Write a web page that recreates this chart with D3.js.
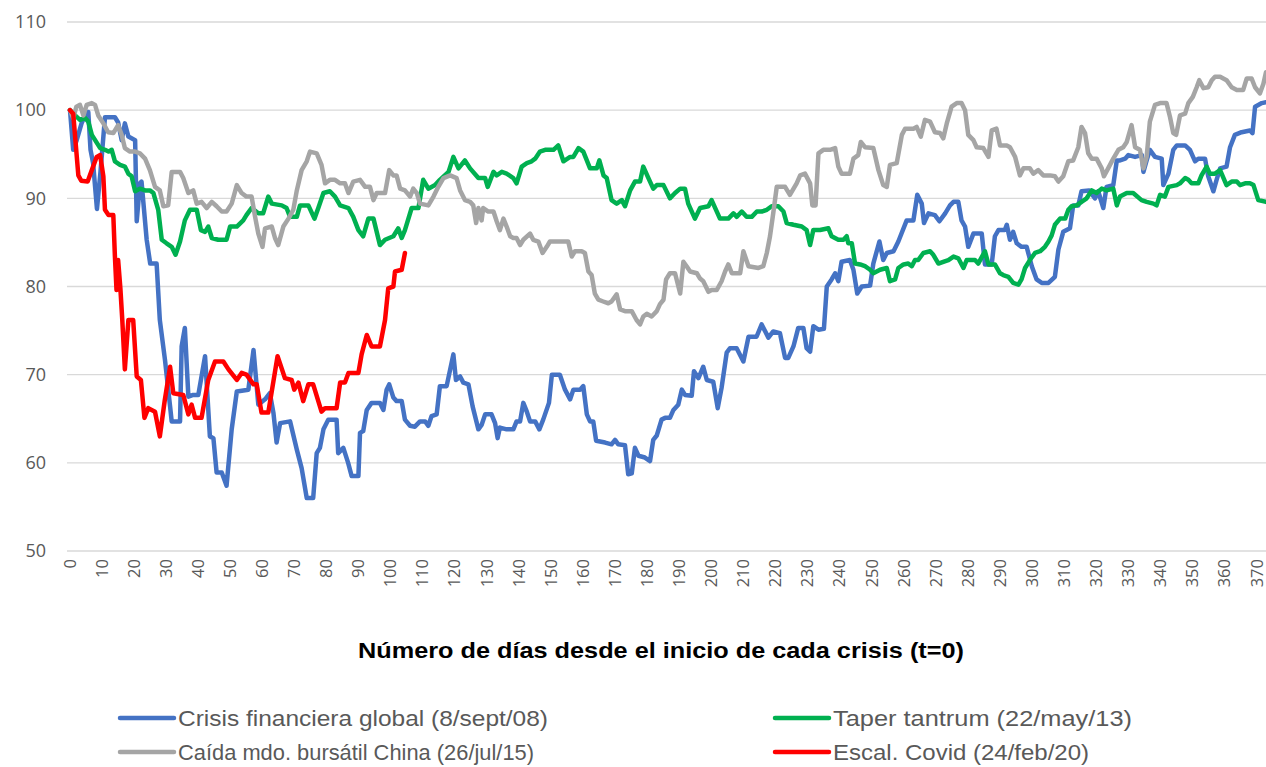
<!DOCTYPE html>
<html>
<head>
<meta charset="utf-8">
<script src="https://cdn.jsdelivr.net/npm/d3@7"></script>
<style>
  body { margin: 0; background: #fff; }
  svg { display: block; }
</style>
</head>
<body>
<div id="chart"></div>
<script>
// Índice (t=0 = 100) por días desde el inicio de cada crisis
const crisisGlobal = [[0,100],[1,95.5],[2,96.5],[3.6,98.5],[5.2,99.8],[5.7,99.8],[6.4,95.5],[7.2,94],[8.4,88.8],[9.5,93],[10.9,99.2],[14,99.2],[15,98.6],[16.1,96.6],[17.1,98.5],[18.2,97],[20.3,96.6],[20.8,87.4],[21.8,91.7],[22.3,91.9],[23.9,85.3],[25,82.6],[27,82.6],[28,76.2],[29.6,71.7],[31.2,66.4],[31.7,64.7],[34.3,64.7],[34.8,73.2],[35.8,75.3],[36.9,67.5],[38.4,67.7],[40,67.7],[42.1,72.1],[43.6,63],[44.7,62.8],[45.7,58.9],[47.3,58.9],[48.8,57.4],[50.4,63.8],[52,68.1],[55.6,68.3],[57.2,72.8],[58.7,66.6],[60.8,67.2],[62.3,67.9],[63.4,65.7],[64.4,62.3],[65.5,64.5],[68.6,64.7],[70.7,61.5],[72.2,59.4],[73.8,56],[75.8,56],[76.9,61.1],[77.9,61.7],[79,63.8],[80.5,64.9],[83.1,64.9],[83.6,61.1],[85.2,61.7],[86.7,60],[87.8,58.5],[89.9,58.5],[90.4,63.4],[91.4,63.6],[92.5,66],[94,66.8],[96.6,66.8],[97.7,66],[98.7,68.3],[99.5,68.9],[100.8,67.4],[101.8,67],[103.4,67],[104.4,64.9],[106,64.2],[107.5,64.1],[109.1,64.7],[110.7,64.7],[111.7,64.2],[112.7,65.3],[114.3,65.5],[115.3,68.7],[117.4,68.7],[119.5,72.3],[120.3,69.4],[121.6,69.8],[122.6,69.1],[124.2,68.9],[125.5,66.4],[127.3,63.8],[128.3,64.3],[129.4,65.5],[131.4,65.5],[132.5,64.5],[133.3,62.8],[134,64],[136.1,63.8],[138.2,63.8],[139.2,64.7],[140.3,64.7],[141.3,66.8],[142.4,65.8],[143.4,64.7],[145,64.7],[146.3,63.8],[147.5,64.9],[149.3,66.8],[150.2,70],[152.7,70],[154.3,68.3],[155.9,67.2],[156.9,68.3],[159,68.3],[160,68.7],[161.1,65.5],[162.1,64.7],[163.1,64.7],[164,62.5],[166.8,62.3],[168.8,62.1],[169.9,62.6],[170.9,62.1],[173,62],[174,58.7],[175.1,58.8],[176.1,61.7],[177.2,60.8],[179.2,60.6],[180.8,60.2],[181.8,62.6],[182.9,63.1],[184.4,64.9],[185.5,65.1],[187,65.1],[188.1,66],[189.6,66.6],[190.7,68.3],[191.7,67.7],[193.8,67.6],[194.5,70.4],[195.9,69.6],[197.4,70.9],[198.5,69.4],[200.5,69.2],[201.9,66.2],[203.1,68.5],[204.7,72.5],[205.7,73],[207.8,73],[209.9,71.5],[211.5,74.3],[214,74.3],[215.6,75.7],[217.7,74.2],[219.2,74.9],[221.3,74.7],[222.9,71.9],[223.9,71.9],[225.5,73.2],[227,75.3],[228.6,75.3],[229.6,73],[230.7,72.6],[231.7,75.5],[233.3,75.1],[235,75.2],[235.9,80],[237.4,80.8],[238.5,81.5],[239.5,80.6],[240.5,82.8],[243.1,83],[244.2,81.9],[245.4,79.2],[246.8,80],[249.4,80.1],[250.4,82.6],[252.3,85.1],[253.5,83],[254.6,83.8],[256.7,84],[258.2,85.1],[260.8,87.5],[262.9,87.5],[264.1,90.4],[265.5,89.4],[266.2,87.2],[267.6,88.3],[269.6,88.1],[271,87.4],[272.8,88.3],[274.3,89.2],[275.4,89.6],[276.9,89.6],[277.9,87.5],[279,86.8],[280,84.5],[281.6,86],[284.2,86],[285.2,82.5],[287.3,82.5],[288.3,85.7],[289.4,86.4],[291.4,86.4],[292,87],[293,85.3],[294,86.2],[295.1,84.9],[296.6,84.5],[298.2,84.5],[299.8,82.3],[301.3,80.8],[302.9,80.4],[305,80.4],[307,81.1],[308.1,84.2],[309.6,86.2],[311.7,86.6],[312.7,89.2],[314.3,89.2],[315.3,90.8],[317.7,90.9],[319.5,90],[320.5,90.8],[322.1,88.9],[323.1,91.3],[325.2,91.5],[326.3,94.3],[327.3,94.3],[328.9,94.5],[329.9,94.9],[332,94.7],[334.1,94.9],[334.6,93],[335.6,94.3],[336.6,95.5],[338.2,94.7],[340.3,94.5],[340.8,91.5],[342.4,92.8],[343.9,95.5],[345,96],[347.6,96],[349.1,95.5],[350.7,94.2],[351.7,94.5],[353.8,94.5],[354.8,92.5],[356.4,90.8],[357.4,92.1],[358.5,93.4],[360.5,93.6],[361.6,95.8],[363.1,97.2],[365.2,97.5],[367.8,97.7],[368.6,97.4],[369.4,100.4],[371.5,100.8],[372.8,100.9]];

const taperTantrum = [[0,100],[1.6,99.4],[3.1,98.9],[4.7,99.1],[5.7,98.7],[6.8,97.2],[9.4,95.7],[10.9,95.5],[12,95.3],[13,95.5],[14,94.2],[15.6,93.8],[17.1,93.6],[18.2,92.8],[19.2,92.5],[20.3,90.8],[21.8,91.1],[23.4,90.9],[24.9,90.9],[26,90.6],[27.5,88.7],[28.6,85.3],[30.1,84.9],[31.7,84.5],[32.9,83.6],[34.3,85.1],[35.8,87.5],[37.4,88.7],[39.5,88.7],[40.8,86.4],[42.1,86.2],[43.1,86.8],[44.2,85.5],[46.2,85.3],[48.8,85.3],[49.9,86.8],[52,86.8],[54,87.5],[55,88.1],[56.6,88.9],[58.7,88.3],[60.2,88.3],[61.8,90.2],[62.9,89.4],[66,89.2],[67.5,88.9],[68.6,87.9],[70.7,87.9],[71.7,89.2],[74.3,89.2],[76.2,87.7],[77.4,88.9],[79,90.6],[81,90.8],[82.6,90.2],[84.2,89.2],[86.8,88.9],[88.3,87.9],[89.9,86.4],[91.4,85.7],[93,87.7],[94.6,87.7],[96.6,84.7],[98.2,85.3],[100.8,85.7],[102.3,86.6],[103.4,85.5],[104.4,86.4],[106.5,88.9],[108.6,88.9],[110.1,92.1],[111.7,91.1],[113.8,91.5],[115.3,92.1],[118,93],[119.5,94.7],[121.1,93.4],[123.1,94.3],[124.7,93.4],[127.3,92.3],[129.4,92.3],[130.2,91.3],[132,93],[133,92.6],[134.6,93],[136.1,92.8],[138.2,92.3],[139.2,91.7],[140.8,93.6],[142.4,94],[143.9,94.2],[145,94.5],[146.5,95.3],[148.1,95.5],[150.7,95.5],[152.2,96],[153.8,94.2],[155.9,94.7],[156.9,94.7],[158.5,95.7],[160,95.3],[162.1,93.4],[164.2,93.4],[165,94.3],[166.3,92.6],[167.3,92.3],[168.8,89.8],[170.4,89.4],[172,89.8],[173,89.1],[174.6,90.9],[176.1,91.9],[177.7,91.9],[178.7,93.6],[180.3,92.3],[181.8,91.1],[182.9,91.5],[185,91.5],[187,90],[188.6,90.6],[190.2,91.1],[191.7,91.1],[192.7,89.4],[194.8,87.7],[196.4,88.9],[199,89.1],[200,89.8],[202.6,87.7],[205.2,87.7],[206.8,88.3],[207.8,87.9],[209.4,88.5],[210.9,87.9],[212.5,87.9],[214.1,88.5],[215.6,88.5],[217.2,88.7],[218.7,89.1],[220.8,89.1],[222.4,88.5],[223.4,87.2],[225.5,87],[228.1,86.8],[229.6,86.4],[230.7,84.7],[231.7,86.4],[233.8,86.4],[236.4,86.6],[237.4,85.7],[239.5,85.3],[241.1,85.3],[242.1,85.7],[242.6,84.9],[243.7,84.9],[244.7,82.6],[246.3,82.5],[247.8,82.3],[249.4,81.9],[250.4,81.5],[252.5,81.9],[254.6,82.1],[255.6,80.6],[257.2,80.8],[258.2,82.1],[259.8,82.5],[261.3,82.6],[262.4,82.3],[263.4,83],[264.4,83],[266,83.8],[268.1,84],[269.1,83.6],[270.7,82.6],[272.2,82.8],[273.8,83],[275.4,83.4],[276.9,83.2],[278.5,82.1],[279.5,83],[282.1,83],[283.1,82.6],[285.2,84],[286.3,82.5],[288.3,82.5],[289.9,81.5],[290.9,81.3],[292.5,81.1],[294,80.4],[295.6,80.2],[296.6,80.8],[297.7,82.1],[299.2,83],[300.8,83.8],[302.4,84],[303.9,84.5],[305,85.1],[306,85.8],[307,87],[308.6,87.7],[310.2,87.7],[311.2,88.7],[312.2,89.1],[313.8,89.2],[315.3,89.6],[316.9,90],[318.5,90.9],[320,90.6],[321.6,91.1],[323.1,90.9],[325.2,91.1],[326.3,89.2],[327.3,90.2],[329.4,90.6],[331.4,90.6],[334,89.8],[335.6,89.6],[337.7,89.4],[338.7,89.2],[339.8,90.4],[341.3,90.2],[342.4,91.3],[345,91.5],[346,91.7],[347.6,92.3],[348.6,92.1],[349.6,91.7],[351.7,91.7],[352.7,92.6],[354.3,93.6],[355.3,92.8],[356.9,92.8],[358.5,93.2],[360.5,91.5],[362.1,91.9],[363.7,91.9],[364.7,91.5],[366.3,91.7],[367.8,91.7],[368.9,91.5],[370.4,89.8],[372.8,89.6]];

const caidaChina = [[0,100],[1,99.1],[2,100.4],[3.1,100.6],[4.2,99.4],[5.2,100.6],[6.8,100.8],[7.8,100.6],[8.8,99.4],[10.4,98.5],[11.9,97.5],[13.5,97.4],[15,98.3],[16.1,97.2],[17.1,95.7],[18.7,95.3],[20.3,95.3],[21.8,95.1],[23.4,94.5],[24.9,93.2],[26.5,91.3],[28,90.9],[29.1,89.1],[30.6,89.2],[31.7,93],[34.3,93],[35.3,92.3],[36.9,90.6],[38.4,90.9],[39.5,89.4],[41,89.6],[42.6,88.9],[44.2,89.6],[45.7,89.1],[47.3,88.5],[48.8,88.5],[50.4,89.4],[52,91.5],[53.5,90.6],[55,90.2],[56.6,90.2],[57.7,87.9],[58.7,86],[60,84.5],[60.8,86.6],[62.9,86.8],[63.9,85.5],[64.9,84.7],[66.5,86.8],[68.1,87.7],[69.6,88.7],[70.7,90.9],[72.2,93.2],[73.8,94.2],[74.8,95.3],[76.9,95.1],[78.4,93.8],[79.5,91.7],[81,92.1],[82.6,92.1],[84.2,91.7],[85.7,91.7],[86.8,90.6],[88.3,91.9],[90.4,92.1],[92,91.3],[93.5,91.3],[94.6,89.8],[95.6,90.6],[98.2,90.6],[99.5,93.2],[100.8,92.6],[101.8,92.6],[102.9,91.1],[104.4,90.9],[106,90.2],[107,91.1],[108.1,90.6],[109.1,89.4],[111.7,89.2],[113.3,90.2],[114.8,91.3],[116.4,92.3],[118.5,92.6],[120.5,92.3],[121.6,90.9],[123.1,89.8],[124.7,89.6],[125.7,89.2],[126.6,87.2],[127.3,88.9],[128.3,87.5],[128.8,88.9],[130.4,88.5],[132,88.5],[133,87.4],[134,86.4],[135.1,87.7],[136.1,86.8],[137.2,85.7],[138.2,85.5],[139.2,85.5],[140.3,84.7],[141.3,85.3],[143.4,86],[144.4,85.3],[146,85.1],[147.3,83.8],[148.6,84.5],[149.6,85.1],[152.2,85.1],[155.3,85.1],[156.4,83.4],[157.4,84],[159.5,84],[160.5,83.8],[161.6,81.7],[162.6,81.3],[163.6,79.2],[164.7,78.5],[166.2,78.3],[167.8,78.1],[168.8,78.3],[170.4,79.1],[171.5,77.4],[173,77.2],[175.1,77.2],[176.6,76.2],[177.7,75.7],[178.7,76.6],[179.8,76.9],[181.3,76.6],[182.9,77.2],[183.9,78],[185,78.5],[185.8,80.8],[187,81.5],[188.6,81.5],[190.2,79.2],[191.2,82.8],[192.2,82.3],[193.3,81.7],[195.4,81.5],[196.4,80.9],[197.4,80.6],[199,79.4],[200,79.6],[201.6,79.6],[203.1,80.6],[204.2,81.7],[205.2,82.5],[206.3,81.5],[208.9,81.5],[209.9,84],[211.5,82.3],[214.6,82.1],[216.1,82.3],[217.2,83.8],[218.2,85.7],[219.2,88.3],[220.3,91.3],[222.9,91.3],[224.4,90.4],[226.5,91.7],[227.6,92.6],[229.1,92.8],[230.7,91.7],[231.4,89.2],[232.4,89.2],[233.3,95.1],[234.8,95.5],[236.9,95.5],[238.5,95.7],[239.5,93.6],[240.5,92.8],[243.1,92.8],[244.2,94.5],[245.7,94.9],[246.5,96.4],[247.8,95.8],[250.4,95.7],[252,93.2],[253.5,91.5],[254.6,91.3],[255.6,93.8],[257.7,94],[259.3,97.2],[260.3,97.9],[262.9,97.9],[263.9,98.1],[265.2,97],[266.5,98.9],[268.1,98.7],[269.6,97.5],[271.2,97.4],[272.2,96.8],[273.3,98.5],[274.8,100.4],[276.4,100.8],[277.9,100.8],[279,100],[280,97.2],[281.6,96.6],[282.6,95.8],[284.7,95.7],[286.3,94.7],[287.3,97.7],[288.8,97.9],[289.9,96],[292,96],[293,95.8],[294.6,94.7],[296.1,92.6],[297.2,93.4],[299.2,93.4],[300.3,92.8],[301.8,93.2],[303.4,92.6],[305.5,92.6],[307,92.5],[308.1,91.9],[309.6,92.5],[311.2,94.2],[312.7,94.3],[314.3,95.8],[315.3,98.1],[316.4,97.4],[317.4,95.1],[318.5,94.5],[320,94.5],[321.6,93.4],[322.3,92.5],[323.6,93.4],[325.2,94.5],[326.8,95.5],[328.3,95.8],[329.4,96.4],[330.9,98.3],[332,95.8],[333.5,95.5],[334.6,93.4],[335.6,94.7],[336.6,98.7],[338.2,100.6],[339.8,100.8],[341.8,100.8],[342.9,99.2],[343.9,97.4],[344.8,97.2],[346,99.4],[347.6,99.6],[348.6,100.8],[350,101.5],[351.2,102.6],[352,103.4],[353.3,102.5],[354.8,102.6],[355.9,103.4],[356.9,103.8],[358.5,103.8],[360.5,103.4],[362.1,102.6],[363.7,102.3],[365.7,102.3],[366.8,103.6],[368.3,103.6],[369.4,102.6],[370.9,101.9],[372,103],[372.8,104.3]];

const escalCovid = [[0,100],[1,99.6],[2.6,92.6],[3.5,92],[5.5,91.9],[6.8,93.2],[8.3,94.7],[9.4,94.9],[10.4,92.5],[10.9,88.7],[12,88.1],[13.5,88.1],[14,83.4],[14.5,79.6],[15,83],[15.7,79.8],[16.3,76.2],[17.1,70.6],[18.2,76.2],[19.7,76.2],[20.8,69.8],[22.1,69.4],[23.2,65.1],[24.4,66.2],[26.5,65.8],[28,63],[29.5,67],[31.2,70.9],[32.2,67.9],[35.3,67.7],[36.9,65.5],[37.9,66.6],[39,65.1],[41,65.1],[43.1,69.4],[45.2,71.5],[47.8,71.5],[49.4,70.6],[52,69.4],[53.5,70.2],[55,70],[57.2,68.9],[58.2,68.9],[59.7,65.7],[61.8,65.7],[64.7,72.1],[67,69.6],[69.1,69.4],[69.9,68.3],[71.2,69.1],[72.7,67],[74.3,68.9],[75.8,68.9],[78.4,65.8],[79.5,66.2],[83.1,66.2],[84.2,69.1],[85.7,69.1],[86.8,70.2],[89.9,70.2],[90.9,72.3],[92.5,74.5],[94,73.2],[96.6,73.2],[98.2,76.2],[99.2,79.8],[100.8,80],[101.3,81.7],[103.4,81.9],[104.4,83.8]];

const seriesNames = ["Crisis financiera global (8/sept/08)", "Taper tantrum (22/may/13)", "Caída mdo. bursátil China (26/jul/15)", "Escal. Covid (24/feb/20)"];
const seriesColors = ["#4472C4", "#00B050", "#A5A5A5", "#FF0000"];
const yTicks = [50, 60, 70, 80, 90, 100, 110];
const xTicks = d3.range(0, 371, 10);
const xTitle = "Número de días desde el inicio de cada crisis (t=0)";

const allSeries = [crisisGlobal, taperTantrum, caidaChina, escalCovid];

const width = 1266, height = 767;
const svg = d3.select("#chart").append("svg")
  .attr("width", width).attr("height", height);

const x = d3.scaleLinear().domain([0, 370]).range([70, 1257]);
const y = d3.scaleLinear().domain([50, 110]).range([551, 22]);
const plotLeft = 67, plotRight = 1266;

// gridlines
svg.append("g").selectAll("line").data(yTicks).join("line")
  .attr("x1", plotLeft).attr("x2", plotRight)
  .attr("y1", d => y(d)).attr("y2", d => y(d))
  .attr("stroke", "#d9d9d9").attr("stroke-width", 1.3);

// y labels
svg.append("g").selectAll("text").data(yTicks).join("text")
  .attr("x", 46).attr("y", d => y(d))
  .attr("dy", "0.35em")
  .attr("text-anchor", "end")
  .attr("font-family", "Open Sans, Liberation Sans, sans-serif")
  .attr("font-size", 18)
  .attr("fill", "#595959")
  .text(d => d);

// x labels (rotated)
svg.append("g").selectAll("text").data(xTicks).join("text")
  .attr("transform", d => `translate(${x(d) + 5.5},559) rotate(-90)`)
  .attr("text-anchor", "end")
  .attr("font-family", "Open Sans, Liberation Sans, sans-serif")
  .attr("font-size", 16.5)
  .attr("fill", "#595959")
  .text(d => d);

// lines
const line = d3.line()
  .x(d => x(d[0]))
  .y(d => y(d[1]));

svg.append("g").selectAll("path").data(allSeries).join("path")
  .attr("d", line)
  .attr("fill", "none")
  .attr("stroke", (d, i) => seriesColors[i])
  .attr("stroke-width", 4.5)
  .attr("stroke-linejoin", "round")
  .attr("stroke-linecap", "round");

// axis title
svg.append("text")
  .attr("x", 661).attr("y", 658)
  .attr("text-anchor", "middle")
  .attr("font-family", "Liberation Sans, Open Sans, sans-serif")
  .attr("font-weight", "bold")
  .attr("font-size", 22)
  .attr("textLength", 606)
  .attr("lengthAdjust", "spacingAndGlyphs")
  .attr("fill", "#000")
  .text(xTitle);

// legend
const legendPos = [[118, 718, 370], [773, 718, 299], [118, 752, 356], [773, 752, 256]];
const legend = svg.append("g").selectAll("g").data(seriesNames).join("g")
  .attr("transform", (d, i) => `translate(${legendPos[i][0]},${legendPos[i][1]})`);

legend.append("line")
  .attr("x1", 2).attr("x2", 56)
  .attr("stroke", (d, i) => seriesColors[i])
  .attr("stroke-width", 4.5)
  .attr("stroke-linecap", "round");

legend.append("text")
  .attr("x", 60).attr("dy", "0.35em")
  .attr("font-family", "Liberation Sans Narrow, Liberation Sans, sans-serif")
  .attr("font-size", 22)
  .attr("fill", "#595959")
  .attr("textLength", (d, i) => legendPos[i][2])
  .attr("lengthAdjust", "spacingAndGlyphs")
  .text(d => d);
</script>
</body>
</html>
